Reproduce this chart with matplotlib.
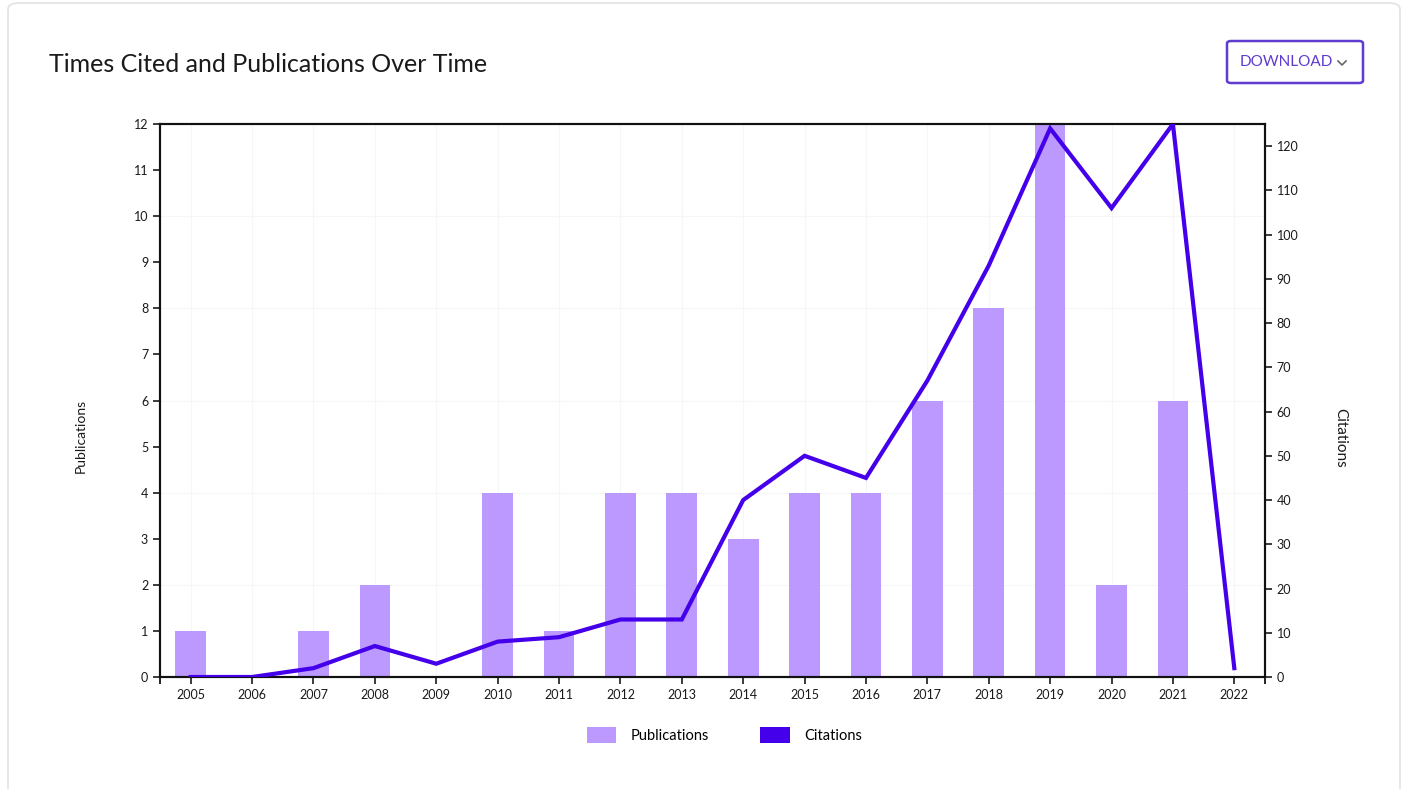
import matplotlib.pyplot as plt
from matplotlib.patches import FancyBboxPatch, Patch
from matplotlib.lines import Line2D

plt.rcParams['font.family'] = ['Lato', 'DejaVu Sans']

# Data
years = ["2005", "2006", "2007", "2008", "2009", "2010", "2011", "2012", "2013",
         "2014", "2015", "2016", "2017", "2018", "2019", "2020", "2021", "2022"]
publications = [1, 0, 1, 2, 0, 4, 1, 4, 4, 3, 4, 4, 6, 8, 12, 2, 6, 0]
citations = [0, 0, 2, 7, 3, 8, 9, 13, 13, 40, 50, 45, 67, 93, 124, 106, 125, 2]

bar_color = '#BB99FF'
line_color = '#4400EA'
text_color = '#1a1a1a'

fig = plt.figure(figsize=(14.07, 7.89), dpi=100)

# Card background with rounded corners
card = FancyBboxPatch((8 / 1407, -0.05), 1392 / 1407, 1.05 - 3 / 789,
                      boxstyle="round,pad=0,rounding_size=0.008",
                      transform=fig.transFigure, facecolor='white',
                      edgecolor='#e2e2e2', linewidth=1.2, zorder=-10)
fig.patches.append(card)

fig.text(49 / 1407, 1 - 64 / 789, "Times Cited and Publications Over Time",
         fontsize=18, color=text_color, va='center', ha='left')

# Download button
btn = FancyBboxPatch((1227 / 1407, 1 - 83 / 789), 136 / 1407, 42 / 789,
                     boxstyle="round,pad=0,rounding_size=0.003",
                     transform=fig.transFigure, facecolor='white',
                     edgecolor='#5f3bd0', linewidth=1.8, zorder=-5)
fig.patches.append(btn)
fig.text(1286 / 1407, 1 - 62 / 789, "DOWNLOAD", fontsize=11, color='#5f3bd0',
         va='center', ha='center')
fig.lines.append(Line2D([1338 / 1407, 1342 / 1407, 1346 / 1407],
                        [1 - 61 / 789, 1 - 65 / 789, 1 - 61 / 789],
                        transform=fig.transFigure, color='#666666', linewidth=1.2))

ax = fig.add_axes([160 / 1407, 1 - 677 / 789, 1105 / 1407, 553 / 789])
ax2 = ax.twinx()

x = list(range(len(years)))
ax.bar(x, publications, width=0.5, color=bar_color, zorder=2)
ax2.plot(x, citations, color=line_color, linewidth=3, zorder=3,
         solid_joinstyle='miter')

ax.set_xlim(-0.5, len(years) - 0.5)
ax.set_ylim(0, 12)
ax2.set_ylim(0, 125)

ax.set_xticks(x)
ax.set_xticklabels(years)
ax.set_xticks([-0.5, len(years) - 0.5], minor=True)
ax.set_yticks(range(0, 13))
ax2.set_yticks(range(0, 121, 10))

for a in (ax, ax2):
    for s in a.spines.values():
        s.set_linewidth(1.5)
        s.set_color('#111111')
    a.tick_params(labelsize=9, colors=text_color, length=5, width=1.2)
ax.tick_params(axis='x', which='minor', length=5, width=1.2)

# faint gridlines
for yv in range(2, 13, 2):
    ax.axhline(yv, color='#f6f6f6', linewidth=0.8, zorder=0)
for xv in x:
    ax.axvline(xv, color='#f6f6f6', linewidth=0.8, zorder=0)

ax.set_ylabel("Publications", fontsize=10, color=text_color)
ax.yaxis.set_label_coords((87 - 160) / 1105, (677 - 436) / 553)
ax2.set_ylabel("Citations", fontsize=11, color=text_color, rotation=-90,
               va='center')
ax2.yaxis.set_label_coords((1340 - 160) / 1105, (677 - 438) / 553)

ax.set_zorder(ax2.get_zorder() - 1)
ax2.patch.set_visible(False)

handles = [Patch(facecolor=bar_color, edgecolor='none', label='Publications'),
           Patch(facecolor=line_color, edgecolor='none', label='Citations')]
fig.legend(handles=handles, loc='center', bbox_to_anchor=(0.515, 1 - 735 / 789),
           ncol=2, frameon=False, fontsize=10.5, handlelength=2.0, handleheight=1.4,
           columnspacing=3.5, handletextpad=1.0)

fig.savefig('out.png', dpi=100)
